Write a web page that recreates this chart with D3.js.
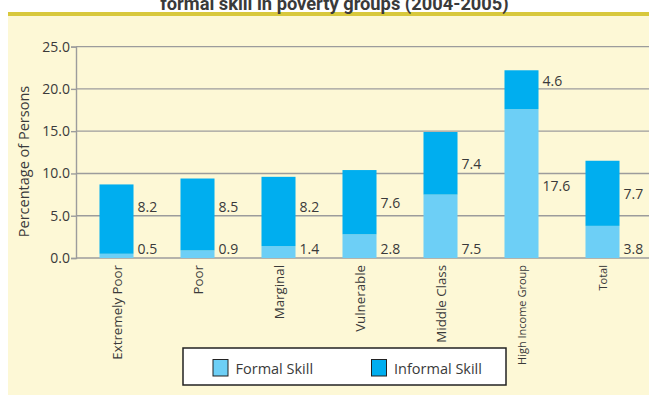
<!DOCTYPE html>
<html>
<head>
<meta charset="utf-8">
<script src="https://cdn.jsdelivr.net/npm/d3@7"></script>
<style>
  html, body { margin: 0; padding: 0; background: #ffffff; }
  svg { display: block; }
</style>
</head>
<body>
<svg id="chart" width="649" height="396"></svg>
<script>
// Skill levels by poverty group, percentage of persons
const categories = ["Extremely Poor", "Poor", "Marginal", "Vulnerable", "Middle Class", "High Income Group", "Total"];
const formalSkill = [0.5, 0.9, 1.4, 2.8, 7.5, 17.6, 3.8];
const informalSkill = [8.2, 8.5, 8.2, 7.6, 7.4, 4.6, 7.7];
const yTicks = [0, 5, 10, 15, 20, 25];
const seriesNames = ["Formal Skill", "Informal Skill"];
const titleText = "formal skill in poverty groups (2004-2005)";
const yAxisTitle = "Percentage of Persons";

const colors = { formal: "#6dcff6", informal: "#00aeef" };
const textColor = "#3a3a3a";
const gridColor = "#9c9c9c";
const bodyFont = "'Open Sans', 'Noto Sans', sans-serif";

const svg = d3.select("#chart");
const W = 649, H = 396;

// panel background and top rule
svg.append("rect").attr("x", 8).attr("y", 16).attr("width", W - 8).attr("height", 379).attr("fill", "#fdf8d6");
svg.append("rect").attr("x", 8).attr("y", 12).attr("width", W - 8).attr("height", 4).attr("fill", "#d8c83c");

// heading runs off the top edge of the frame
svg.append("text")
  .attr("x", 334.5).attr("y", 9.5)
  .attr("text-anchor", "middle")
  .attr("font-family", "Roboto, 'Liberation Sans', sans-serif")
  .attr("font-weight", "bold")
  .attr("font-size", 18.3)
  .attr("fill", textColor)
  .text(titleText);

const plot = { left: 76, right: 643, top: 46.6, bottom: 258 };

const x = d3.scaleBand()
  .domain(categories)
  .range([plot.left, plot.right])
  .paddingInner(0.58)
  .paddingOuter(0.29);

const y = d3.scaleLinear()
  .domain([0, 25])
  .range([plot.bottom, plot.top]);

// horizontal gridlines run to the panel edge
svg.append("g")
  .selectAll("line")
  .data(yTicks)
  .join("line")
  .attr("x1", plot.left).attr("x2", W)
  .attr("y1", d => y(d)).attr("y2", d => y(d))
  .attr("stroke", gridColor)
  .attr("stroke-width", 1.4);

// y axis
const yAxis = svg.append("g")
  .attr("transform", `translate(${plot.left},0)`)
  .call(d3.axisLeft(y).tickValues(yTicks).tickFormat(d3.format(".1f")).tickSize(5).tickPadding(1));
yAxis.select(".domain").attr("stroke", gridColor).attr("stroke-width", 1.4);
yAxis.selectAll(".tick line").attr("stroke", gridColor).attr("stroke-width", 1.4);
yAxis.selectAll(".tick text")
  .attr("font-family", bodyFont)
  .attr("font-size", 14)
  .attr("fill", textColor);

svg.append("text")
  .attr("transform", `translate(23,161.5) rotate(-90)`)
  .attr("text-anchor", "middle")
  .attr("dominant-baseline", "central")
  .attr("font-family", bodyFont)
  .attr("font-size", 14.5)
  .attr("fill", textColor)
  .text(yAxisTitle);

// stacked bars
const rows = categories.map((c, i) => ({ cat: c, formal: formalSkill[i], informal: informalSkill[i] }));

const bars = svg.append("g");
bars.selectAll("rect.formal")
  .data(rows)
  .join("rect")
  .attr("class", "formal")
  .attr("x", d => x(d.cat))
  .attr("width", x.bandwidth())
  .attr("y", d => y(d.formal))
  .attr("height", d => y(0) - y(d.formal))
  .attr("fill", colors.formal);

bars.selectAll("rect.informal")
  .data(rows)
  .join("rect")
  .attr("class", "informal")
  .attr("x", d => x(d.cat))
  .attr("width", x.bandwidth())
  .attr("y", d => y(d.formal + d.informal))
  .attr("height", d => y(d.formal) - y(d.formal + d.informal))
  .attr("fill", colors.informal);

// value labels to the right of each bar
const formalLabelY = d => d.formal > 10 ? (y(0) + y(d.formal)) / 2 + 2 : y(0) - 10;
const informalLabelY = d => {
  if (d.formal > 10) return y(d.formal + d.informal) + 10;
  const mid = (y(d.formal) + y(d.formal + d.informal)) / 2;
  return Math.min(mid, y(0) - 52);
};

const labels = svg.append("g")
  .attr("font-family", bodyFont)
  .attr("font-size", 14)
  .attr("fill", textColor);

labels.selectAll("text.formal")
  .data(rows)
  .join("text")
  .attr("class", "formal")
  .attr("x", d => x(d.cat) + x.bandwidth() + 4)
  .attr("y", formalLabelY)
  .attr("dominant-baseline", "central")
  .text(d => d3.format(".1f")(d.formal));

labels.selectAll("text.informal")
  .data(rows)
  .join("text")
  .attr("class", "informal")
  .attr("x", d => x(d.cat) + x.bandwidth() + 4)
  .attr("y", informalLabelY)
  .attr("dominant-baseline", "central")
  .text(d => d3.format(".1f")(d.informal));

// rotated category captions under each bar
svg.append("g")
  .selectAll("text")
  .data(categories)
  .join("text")
  .attr("transform", d => `translate(${x(d) + x.bandwidth() / 2},265) rotate(-90)`)
  .attr("text-anchor", "end")
  .attr("dominant-baseline", "central")
  .attr("font-family", bodyFont)
  .attr("font-size", (d, i) => i >= 5 ? 11 : 13.3)
  .attr("fill", textColor)
  .text(d => d);

// legend
const legend = svg.append("g");
legend.append("rect")
  .attr("x", 183).attr("y", 348)
  .attr("width", 323).attr("height", 37)
  .attr("fill", "#ffffff")
  .attr("stroke", "#222222")
  .attr("stroke-width", 1.5);

const legendItems = [
  { name: seriesNames[0], color: colors.formal, x: 213 },
  { name: seriesNames[1], color: colors.informal, x: 371.5 }
];
const li = legend.selectAll("g.item")
  .data(legendItems)
  .join("g")
  .attr("class", "item")
  .attr("transform", d => `translate(${d.x},359.5)`);
li.append("rect")
  .attr("width", 15).attr("height", 16.5)
  .attr("fill", d => d.color)
  .attr("stroke", "#222222")
  .attr("stroke-width", 1);
li.append("text")
  .attr("x", 22.5).attr("y", 8.5)
  .attr("dominant-baseline", "central")
  .attr("font-family", bodyFont)
  .attr("font-size", 14.5)
  .attr("fill", textColor)
  .text(d => d.name);
</script>
</body>
</html>
